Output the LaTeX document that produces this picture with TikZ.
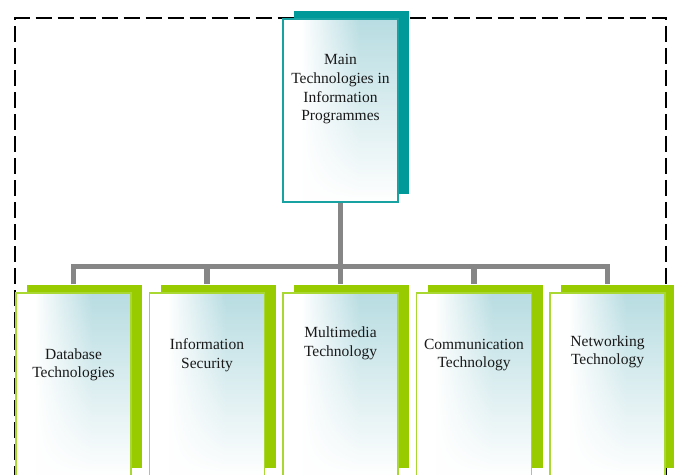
\documentclass[tikz,border=0pt]{standalone}
\usepackage{fontspec}
\setmainfont{Liberation Serif}
\usetikzlibrary{shadows,fadings}
\definecolor{shteal}{HTML}{009999}
\definecolor{bdteal}{HTML}{18A2A2}
\definecolor{shgreen}{HTML}{99CC00}
\definecolor{bdgreen}{HTML}{AAD832}
\definecolor{lblue}{HTML}{B8DDE2}
\definecolor{conngray}{HTML}{868686}
\pgfdeclarehorizontalshading{hshade}{100bp}{color(0bp)=(white); color(25bp)=(white); color(33bp)=(white); color(58bp)=(lblue); color(100bp)=(lblue)}
\tikzfading[name=fadebottom, top color=transparent!100, middle color=transparent!85, bottom color=transparent!0]
\tikzset{
  frontbox/.style={rectangle, inner sep=0pt, minimum width=115pt, minimum height=183pt,
    line width=1.4pt,
    path picture={
      \shade[shading=hshade]
        (path picture bounding box.south west) rectangle (path picture bounding box.north east);
      \fill[white, path fading=fadebottom]
        (path picture bounding box.south west) rectangle (path picture bounding box.north east);
    }},
  mainbox/.style={frontbox, draw=bdteal,
    general shadow={shadow xshift=11pt, shadow yshift=8pt, fill=shteal, draw=none}},
  subbox/.style={frontbox, draw=bdgreen,
    general shadow={shadow xshift=11pt, shadow yshift=8pt, fill=shgreen, draw=none}},
  label/.style={align=center, inner sep=0pt, text=black!90, font=\fontsize{15.5}{18.7}\selectfont},
  conn/.style={draw=conngray, line width=5.5pt, line join=miter},
  frame/.style={draw=black, line width=2pt, dash pattern=on 16pt off 6pt}
}
\begin{document}
\begin{tikzpicture}[x=1pt,y=1pt]
\useasboundingbox (0,0) rectangle (674,474);
\clip (0,0) rectangle (674,474);
% dashed frame
\draw[frame] (15,-30) -- (15,455.5) -- (666,455.5) -- (666,-30);
% boxes
\node[mainbox] (m) at (340.5,363.5) {};
\node[subbox] (b1) at (73.5,89.5) {};
\node[subbox] (b2) at (207,89.5) {};
\node[subbox] (b3) at (340.5,89.5) {};
\node[subbox] (b4) at (474,89.5) {};
\node[subbox] (b5) at (607.5,89.5) {};
% connectors
\coordinate (bar) at (340.5,207.5);
\draw[conn] ([yshift=8pt]b1.north) -- (b1.north |- bar) -- (b5.north |- bar) -- ([yshift=8pt]b5.north);
\draw[conn] (m.south) -- (m.south |- bar);
\draw[conn] (b2.north |- bar) -- ([yshift=8pt]b2.north);
\draw[conn] (b3.north |- bar) -- ([yshift=8pt]b3.north);
\draw[conn] (b4.north |- bar) -- ([yshift=8pt]b4.north);
% texts
\node[label] (tm) at (340.5,384.6) {Main\\Technologies in\\Information\\Programmes};
\node[label] (t1) at (73.5,109.1) {Database\\Technologies};
\node[label] (t2) at (207,119.1) {Information\\Security};
\node[label] (t3) at (340.5,130.8) {Multimedia\\Technology};
\node[label] (t4) at (474,119.1) {Communication\\Technology};
\node[label] (t5) at (607.5,122.1) {Networking\\Technology};
\end{tikzpicture}
\end{document}
